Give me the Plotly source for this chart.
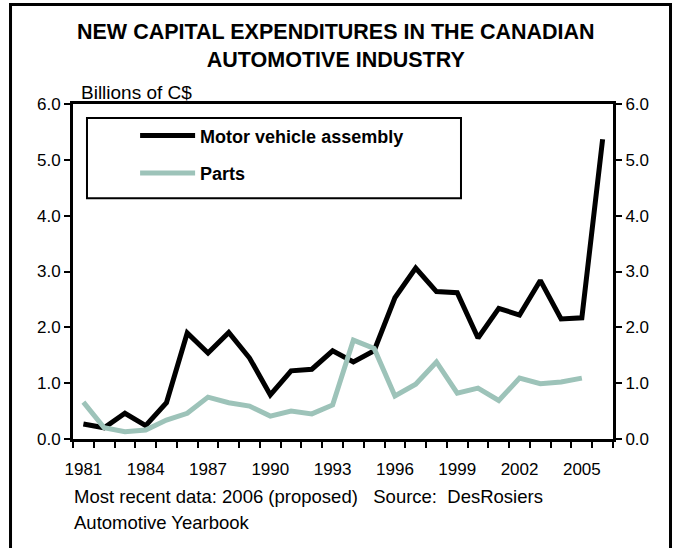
import plotly.graph_objects as go

# Annual new capital expenditures, billions of C$
years = list(range(1981, 2007))
assembly = [0.27, 0.20, 0.46, 0.24, 0.65, 1.90, 1.54, 1.91, 1.45, 0.79,
            1.22, 1.25, 1.58, 1.38, 1.58, 2.53, 3.06, 2.64, 2.62, 1.81,
            2.34, 2.22, 2.84, 2.15, 2.17, 5.37]
parts_years = list(range(1981, 2006))
parts = [0.66, 0.20, 0.13, 0.16, 0.34, 0.46, 0.75, 0.65, 0.59, 0.41,
         0.50, 0.45, 0.61, 1.77, 1.62, 0.77, 0.98, 1.38, 0.82, 0.91,
         0.69, 1.09, 0.99, 1.02, 1.09]
tick_years = list(range(1981, 2006, 3))
y_ticks = [0, 1, 2, 3, 4, 5, 6]

FONT = "Liberation Sans, Arial, sans-serif"
TEAL = "#9dc3b9"

fig = go.Figure()
fig.add_trace(go.Scatter(x=years, y=assembly, mode="lines", name="<b>Motor vehicle assembly</b>",
                         line=dict(color="black", width=5), legendgroup="a"))
# Parts sits on the right-hand axis (same scale) so that axis is drawn
fig.add_trace(go.Scatter(x=parts_years, y=parts, mode="lines", name="<b>Parts</b>",
                         line=dict(color=TEAL, width=5), legendgroup="b", yaxis="y2"))

boundaries = [y - 0.5 for y in years] + [years[-1] + 0.5]

yaxis_common = dict(range=[0, 6], tickmode="array", tickvals=y_ticks, tickformat=".1f",
                    ticks="outside", ticklen=6, tickwidth=2, tickcolor="black",
                    showline=True, linewidth=3, linecolor="black",
                    showgrid=False, zeroline=False, tickfont=dict(size=17))

fig.update_layout(
    width=675, height=548,
    margin=dict(l=73, r=62, t=104, b=109),
    paper_bgcolor="white", plot_bgcolor="white",
    font=dict(family=FONT, color="black", size=17),
    showlegend=True,
    legend=dict(x=0.115, y=0.96, xanchor="left", yanchor="top",
                bgcolor="rgba(0,0,0,0)", borderwidth=0,
                font=dict(size=18, family=FONT, color="black"),
                traceorder="grouped", tracegroupgap=11, itemwidth=55),
    xaxis=dict(range=[1980.5, 2006.5], tickmode="array", tickvals=tick_years,
               ticktext=[str(t) for t in tick_years], ticks="",
               showline=True, linewidth=3, linecolor="black", mirror=True,
               showgrid=False, zeroline=False, ticklabelstandoff=13,
               tickfont=dict(size=17),
               minor=dict(tickmode="array", tickvals=boundaries, ticks="outside",
                          ticklen=6, tickwidth=2, tickcolor="black", showgrid=False)),
    yaxis=dict(**yaxis_common),
    yaxis2=dict(**yaxis_common, overlaying="y", side="right"),
)

# Outer frame and legend box
fig.add_shape(type="rect", xref="paper", yref="paper",
              x0=-0.1157, x1=1.1065, y0=-0.40, y1=1.297,
              line=dict(color="black", width=3), fillcolor="rgba(0,0,0,0)", layer="above")
fig.add_shape(type="rect", xref="paper", yref="paper",
              x0=0.0259, x1=0.7185, y0=0.719, y1=0.958,
              line=dict(color="black", width=2), fillcolor="rgba(0,0,0,0)", layer="above")

fig.add_annotation(text="<b>NEW CAPITAL EXPENDITURES IN THE CANADIAN<br>AUTOMOTIVE INDUSTRY</b>",
                   xref="paper", yref="paper", x=0.487, y=1.173, xanchor="center", yanchor="middle",
                   showarrow=False, font=dict(size=21.5, family=FONT, color="black"))
fig.add_annotation(text="Billions of C$", xref="paper", yref="paper", x=0.011, y=1.033,
                   xanchor="left", yanchor="middle", showarrow=False,
                   font=dict(size=19, family=FONT, color="black"))
fig.add_annotation(text="Most recent data: 2006 (proposed)&nbsp;&nbsp;&nbsp;Source:&nbsp;&nbsp;DesRosiers",
                   xref="paper", yref="paper", x=-0.002, y=-0.173,
                   xanchor="left", yanchor="middle", showarrow=False,
                   font=dict(size=18.5, family=FONT, color="black"))
fig.add_annotation(text="Automotive Yearbook",
                   xref="paper", yref="paper", x=-0.002, y=-0.248,
                   xanchor="left", yanchor="middle", showarrow=False,
                   font=dict(size=18.5, family=FONT, color="black"))

fig.write_html("out.html")
